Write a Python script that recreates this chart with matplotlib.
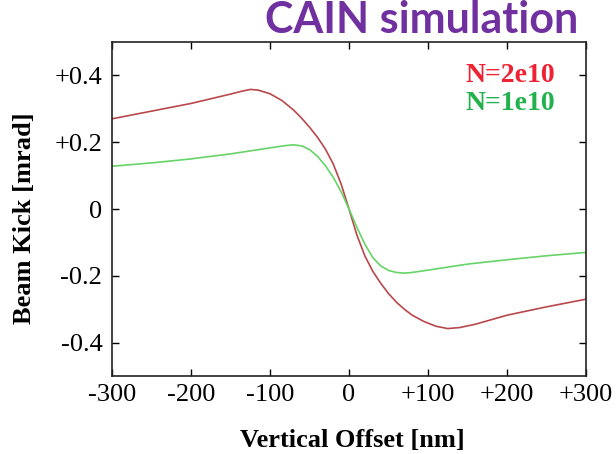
import numpy as np
import matplotlib
matplotlib.use("Agg")
import matplotlib.pyplot as plt

# beam kick vs vertical offset
offset_2e10 = [-300, -250, -200, -175, -150, -135, -125, -115, -100, -85, -70, -60, -50, -40, -30, -20, -10, 0,
               10, 20, 30, 40, 50, 60, 70, 80, 95, 110, 125, 140, 160, 200, 250, 300]
kick_2e10 = [0.270, 0.293, 0.316, 0.330, 0.344, 0.353, 0.358, 0.356, 0.345, 0.325, 0.296, 0.272, 0.245, 0.215,
             0.180, 0.135, 0.075, 0.0, -0.078, -0.140, -0.186, -0.222, -0.253, -0.279, -0.300, -0.318, -0.337,
             -0.351, -0.358, -0.355, -0.345, -0.318, -0.293, -0.270]

offset_1e10 = [-300, -250, -200, -150, -125, -100, -80, -70, -60, -50, -40, -30, -20, -10, 0,
               10, 20, 30, 40, 50, 60, 70, 80, 100, 125, 150, 200, 250, 300]
kick_1e10 = [0.128, 0.138, 0.150, 0.165, 0.174, 0.183, 0.190, 0.192, 0.189, 0.178, 0.158, 0.130, 0.095, 0.052, 0.0,
             -0.055, -0.105, -0.145, -0.170, -0.184, -0.190, -0.192, -0.190, -0.183, -0.174, -0.165, -0.152,
             -0.140, -0.130]

xticks = [-300, -200, -100, 0, 100, 200, 300]
xtick_labels = ["-300", "-200", "-100", "0", "+100", "+200", "+300"]
yticks = [-0.4, -0.2, 0, 0.2, 0.4]
ytick_labels = ["-0.4", "-0.2", "0", "+0.2", "+0.4"]

serif = "Liberation Serif"

fig = plt.figure(figsize=(6.16, 4.54), dpi=100)
ax = fig.add_axes([112 / 616, 1 - 376 / 454, 474 / 616, 334 / 454])

ax.plot(offset_2e10, kick_2e10, color="#b9474b", lw=1.2)
ax.plot(offset_1e10, kick_1e10, color="#66d466", lw=1.2)

ax.set_xlim(-300, 300)
ax.set_ylim(-0.5, 0.5)
ax.set_xticks(xticks)
ax.set_xticklabels(xtick_labels, family=serif, fontsize=19)
ax.set_yticks(yticks)
ax.set_yticklabels(ytick_labels, family=serif, fontsize=19)
ax.tick_params(direction="in", top=True, right=True, length=5, width=1)
ax.tick_params(axis="x", pad=6)
ax.tick_params(axis="y", pad=7)
for s in ax.spines.values():
    s.set_linewidth(1.2)
    s.set_color("#222222")

fig.text(352 / 616, 1 - 447 / 454, "Vertical Offset [nm]", family=serif, fontweight="bold",
         fontsize=19, ha="center", va="baseline")
fig.text(36 / 616, 1 - 218 / 454, "Beam Kick [mrad]", family=serif, fontweight="bold",
         fontsize=19, ha="right", va="center", rotation=90)

# legend as coloured text
fig.text(466 / 616, 1 - 82 / 454, "N=2e10", family=serif, fontweight="bold", fontsize=20,
         color="#ee2233", ha="left", va="baseline")
fig.text(466 / 616, 1 - 110 / 454, "N=1e10", family=serif, fontweight="bold", fontsize=20,
         color="#22b14c", ha="left", va="baseline")

fig.text(578 / 616, 1 - 33 / 454, "CAIN simulation", family="Lato", fontweight="bold", fontsize=31,
         color="#7030a0", ha="right", va="baseline")

fig.savefig("out.png", dpi=100)
